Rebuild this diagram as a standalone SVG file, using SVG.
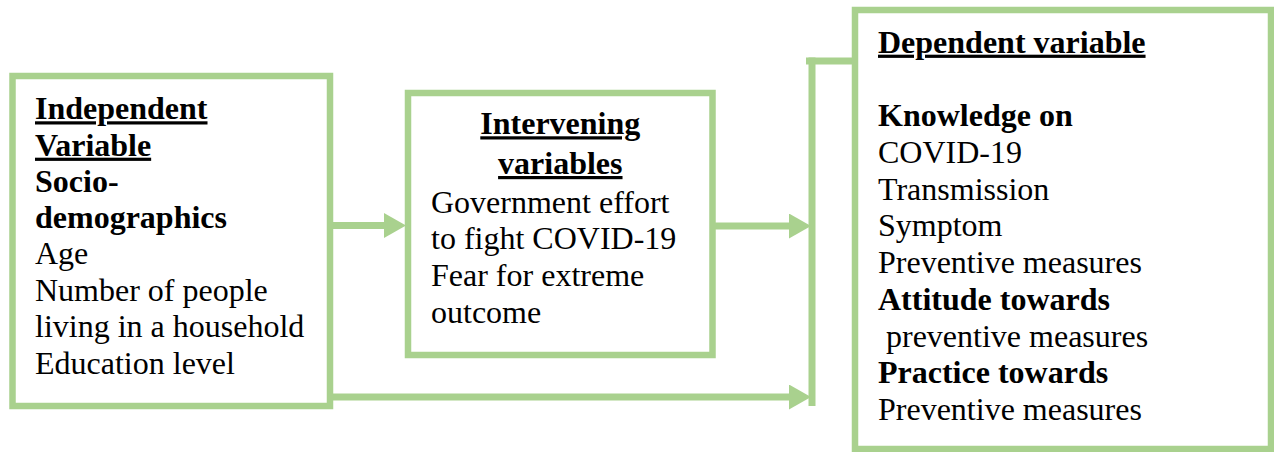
<svg xmlns="http://www.w3.org/2000/svg" width="1274" height="452" viewBox="0 0 1274 452">
  <style>
    .box { fill: #ffffff; stroke: #A9D18E; stroke-width: 6.5; }
    .conn { stroke: #A9D18E; stroke-width: 7; fill: none; stroke-linecap: butt; }
    .t { font-family: 'Liberation Serif', 'Times New Roman', Times, serif; font-size: 32px; fill: #000000; }
    .b { font-weight: bold; }
    .u { text-decoration: underline; }
    .c { text-anchor: middle; }
  </style>
  <defs>
    <marker id="head" markerUnits="userSpaceOnUse" markerWidth="23" markerHeight="25" refX="0" refY="12.5" orient="auto">
      <path d="M0,0 L22,12.5 L0,25 Z" fill="#A9D18E"/>
    </marker>
  </defs>
  <rect width="1274" height="452" fill="#ffffff"/>

  <g id="connectors">
    <line class="conn" x1="333" y1="225.5" x2="384" y2="225.5" marker-end="url(#head)"/>
    <line class="conn" x1="715" y1="226" x2="789" y2="226" marker-end="url(#head)"/>
    <line class="conn" x1="333" y1="397" x2="789" y2="397" marker-end="url(#head)"/>
    <line class="conn" x1="812" y1="57.5" x2="812" y2="406"/>
    <line class="conn" x1="806" y1="61" x2="855" y2="61"/>
  </g>

  <g id="independent">
    <rect class="box" x="12.5" y="76" width="317.5" height="330"/>
    <g class="t" font-family="Liberation Serif, serif">
      <text x="35" y="119.3" class="b u">Independent</text>
      <text x="35" y="155.7" class="b u">Variable</text>
      <text x="35" y="191.5" class="b">Socio-</text>
      <text x="35" y="227.5" class="b">demographics</text>
      <text x="35" y="264">Age</text>
      <text x="35" y="300.8">Number of people</text>
      <text x="35" y="337.3">living in a household</text>
      <text x="35" y="374">Education level</text>
    </g>
  </g>

  <g id="intervening">
    <rect class="box" x="408" y="93" width="304.5" height="262"/>
    <g class="t" font-family="Liberation Serif, serif">
      <text x="560.3" y="134.3" class="b u c">Intervening</text>
      <text x="560.3" y="174" class="b u c">variables</text>
      <text x="431" y="212.7">Government effort</text>
      <text x="431" y="249.3">to fight COVID-19</text>
      <text x="431" y="286">Fear for extreme</text>
      <text x="431" y="322.7">outcome</text>
    </g>
  </g>

  <g id="dependent">
    <rect class="box" x="855" y="10" width="416" height="439"/>
    <g class="t" font-family="Liberation Serif, serif">
      <text x="878" y="52.7" class="b u">Dependent variable</text>
      <text x="878" y="126" class="b">Knowledge on</text>
      <text x="878" y="162.7">COVID-19</text>
      <text x="878" y="199.6">Transmission</text>
      <text x="878" y="236.3">Symptom</text>
      <text x="878" y="273">Preventive measures</text>
      <text x="878" y="309.8" class="b">Attitude towards</text>
      <text x="878" y="346.5">&#160;preventive measures</text>
      <text x="878" y="383.2" class="b">Practice towards</text>
      <text x="878" y="420">Preventive measures</text>
    </g>
  </g>
</svg>
